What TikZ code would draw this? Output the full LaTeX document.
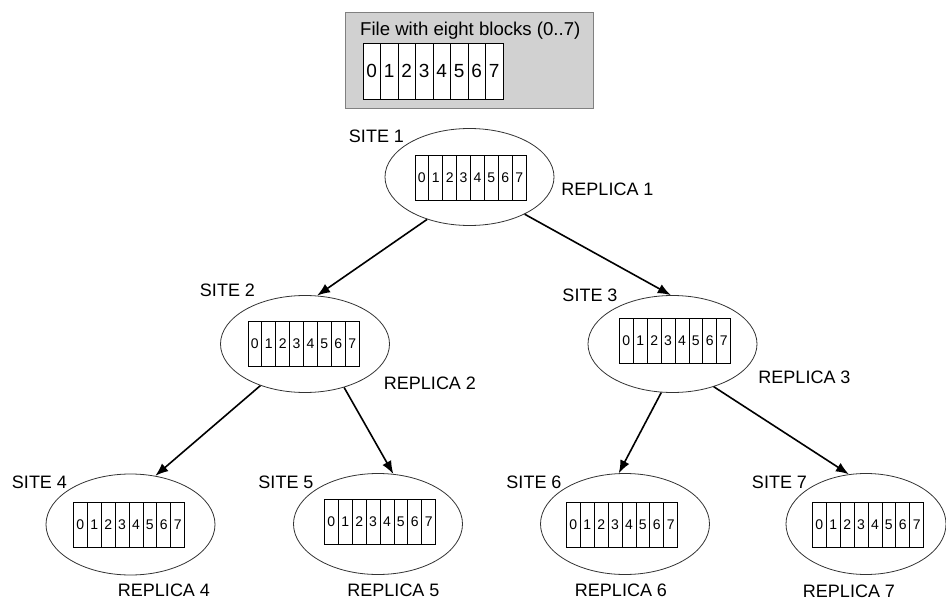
\documentclass[tikz,border=0pt]{standalone}
\usepackage{fontspec}
\setmainfont{Liberation Sans}
\usetikzlibrary{positioning, shapes, arrows.meta, calc}

\begin{document}
\begin{tikzpicture}[x=1pt, y=-1pt]
\tikzset{site/.style={
    ellipse, draw=black!80, line width=0.8pt, minimum width=169pt, minimum height=97pt, inner sep=0pt},
    blk/.style={
    rectangle, draw=black, line width=0.7pt, fill=white, minimum width=13.9pt, minimum height=45pt, inner sep=0pt, font=\fontsize{14}{14}\selectfont},
    bigblk/.style={
    rectangle, draw=black, line width=0.8pt, fill=white, minimum width=17.5pt, minimum height=56pt, inner sep=0pt, font=\fontsize{19}{19}\selectfont},
    lbl/.style={font=\fontsize{18}{20}\selectfont, inner sep=0pt},
    arr/.style={line width=1.6pt, -{Latex[length=13pt,width=10pt]}}
}
\useasboundingbox (0,0) rectangle (946,602);

    % file with the eight blocks
    \node[draw=black!50, line width=0.8pt, fill=black!18, minimum width=248pt, minimum height=96pt, inner sep=0pt] (file) at (469,60) {};
    \node[lbl, anchor=base west, font=\fontsize{18.6}{20}\selectfont] (file_title) at (360,36) {File with eight blocks (0..7)};
    \foreach \i in {0,...,7}
        \node[bigblk] (file_b\i) at ({371.75+17.5*\i}, 71) {\i};

    % sites
    \node[site] (site_1) at (469.5,177) {};
    \node[site] (site_2) at (305,344) {};
    \node[site] (site_3) at (672.5,344) {};
    \node[site, minimum height=101pt] (site_4) at (130.5,524.5) {};
    \node[site, minimum height=101pt] (site_5) at (378,524) {};
    \node[site, minimum height=101pt] (site_6) at (625,524) {};
    \node[site, minimum height=101pt, minimum width=160pt] (site_7) at (866,524) {};

    % replica blocks
    \foreach \n/\x/\y in {1/470.5/177.5, 2/303.5/343.5, 3/675/341, 4/129/525, 5/380/522, 6/622/525, 7/868/525}
        \foreach \i in {0,...,7}
            \node[blk] (site_\n_b\i) at ({\x-48.65+13.9*\i}, \y) {\i};

    % names
    \node[lbl] (name_1) at (376.5,136) {SITE 1};
    \node[lbl] (rep_1) at (607.5,189) {REPLICA 1};
    \node[lbl] (name_2) at (227.5,290) {SITE 2};
    \node[lbl] (rep_2) at (430,383) {REPLICA 2};
    \node[lbl] (name_3) at (590,295) {SITE 3};
    \node[lbl] (rep_3) at (804.5,377) {REPLICA 3};
    \node[lbl] (name_4) at (39.5,482) {SITE 4};
    \node[lbl] (rep_4) at (164,590) {REPLICA 4};
    \node[lbl] (name_5) at (286,482) {SITE 5};
    \node[lbl] (rep_5) at (393.5,590) {REPLICA 5};
    \node[lbl] (name_6) at (534,482) {SITE 6};
    \node[lbl] (rep_6) at (621,590) {REPLICA 6};
    \node[lbl] (name_7) at (779.5,482) {SITE 7};
    \node[lbl] (rep_7) at (849,591) {REPLICA 7};

    % replication
    \draw[arr] (site_1.225) -- (site_2.76);
    \draw[arr] (site_1.326) -- (site_3.92);
    \draw[arr] (site_2.223) -- (site_4.63);
    \draw[arr] (site_2.312) -- (site_5.73);
    \draw[arr] (site_3.257) -- (site_6.97);
    \draw[arr] (site_3.314) -- (site_7.109);

\end{tikzpicture}
\end{document}
